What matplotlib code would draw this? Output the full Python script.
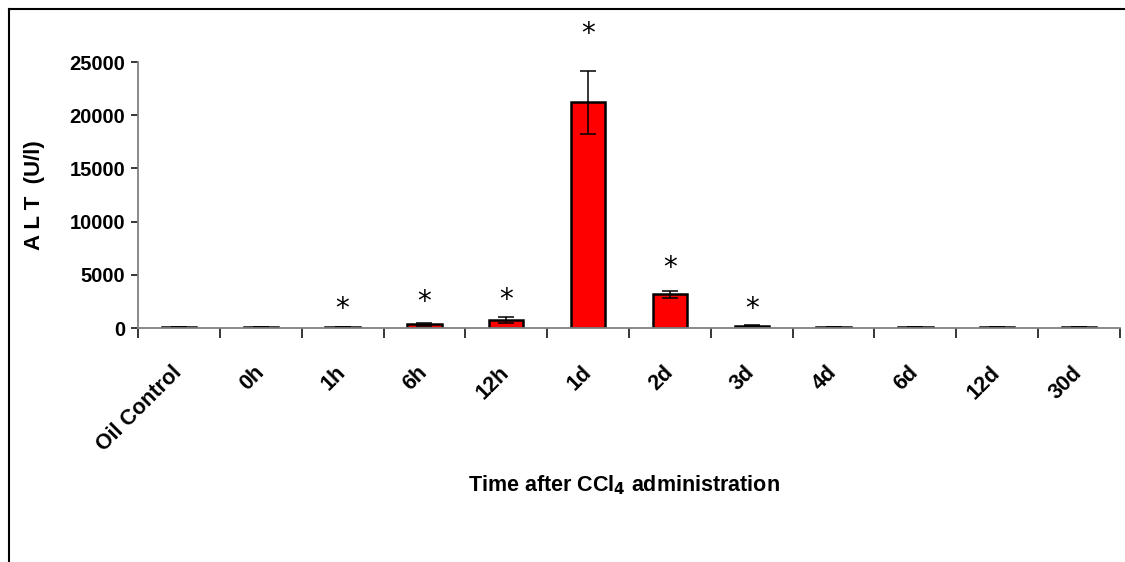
import matplotlib.pyplot as plt
import matplotlib.lines as mlines
import numpy as np

plt.rcParams['font.family'] = ['Liberation Sans Narrow', 'Liberation Sans', 'DejaVu Sans']

categories = ["Oil Control", "0h", "1h", "6h", "12h", "1d", "2d", "3d", "4d", "6d", "12d", "30d"]
alt_mean = [60, 60, 60, 330, 750, 21200, 3150, 220, 60, 60, 60, 60]
alt_err = [0, 0, 0, 180, 250, 3000, 350, 60, 0, 0, 0, 0]
star_y = [None, None, 1800, 2400, 2600, 27600, 5600, 1800, None, None, None, None]

fig = plt.figure(figsize=(11.25, 5.62), dpi=100)
ax = fig.add_axes([138 / 1125, 1 - 328 / 562, (1120 - 138) / 1125, (328 - 62) / 562])

x = np.arange(len(categories))
ax.bar(x, alt_mean, width=0.42, color='#ff0000', edgecolor='black', linewidth=1.8,
       yerr=alt_err, error_kw=dict(ecolor='black', elinewidth=1.1, capsize=6, capthick=1.1))

for xi, sy in zip(x, star_y):
    if sy is not None:
        ax.text(xi, sy, '*', ha='center', va='center', fontsize=20, clip_on=False,
                family='DejaVu Sans')

ax.set_xlim(-0.5, len(categories) - 0.5)
ax.set_ylim(0, 25000)
ax.set_yticks([0, 5000, 10000, 15000, 20000, 25000])
ax.set_yticklabels(['0', '5000', '10000', '15000', '20000', '25000'], fontsize=14.5, fontweight='bold')

ax.set_xticks(x)
ax.set_xticklabels(categories, rotation=45, ha='right', va='center', rotation_mode='anchor',
                   fontsize=15.5, fontweight='bold')
ax.set_xticks(np.arange(-0.5, len(categories), 1), minor=True)
ax.tick_params(axis='x', which='major', length=0, pad=30)
ax.tick_params(axis='x', which='minor', length=7, width=1.1, direction='out', color='black')
ax.tick_params(axis='y', length=5, width=1.1, direction='out', color='black', pad=4)

for side in ['top', 'right']:
    ax.spines[side].set_visible(False)
for side in ['left', 'bottom']:
    ax.spines[side].set_color('#808080')
    ax.spines[side].set_linewidth(1.3)

ax.set_ylabel('A L T  (U/l)', fontsize=16, fontweight='bold')
ax.yaxis.set_label_coords(-0.095, 0.5)
ax.set_xlabel('Time after CCl$_\\mathbf{4}$ administration', fontsize=15.5, fontweight='bold')
ax.xaxis.set_label_coords(0.495, -0.545)

# outer frame (top and left edges visible)
fx0 = 9 / 1125
fy0 = 1 - 9 / 562
fig.add_artist(mlines.Line2D([fx0, 1.0], [fy0, fy0], color='black', lw=1.5, transform=fig.transFigure))
fig.add_artist(mlines.Line2D([fx0, fx0], [fy0, 0.0], color='black', lw=1.5, transform=fig.transFigure))

fig.savefig('out.png', dpi=100)
